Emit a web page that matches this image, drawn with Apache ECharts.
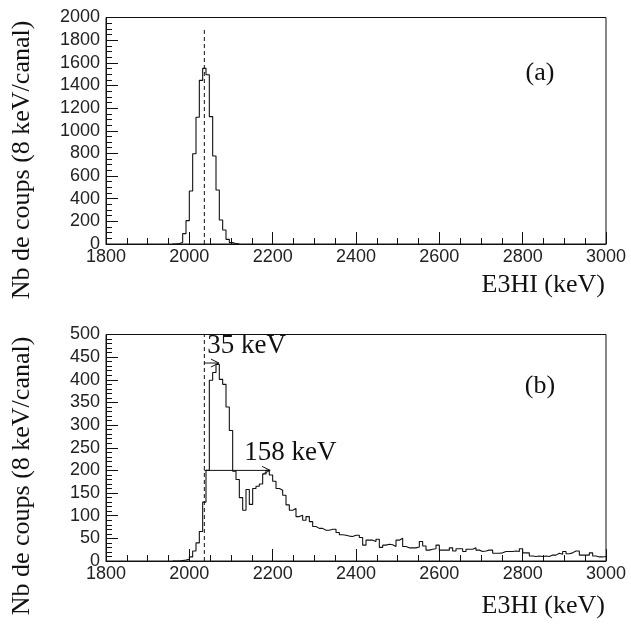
<!DOCTYPE html>
<html>
<head>
<meta charset="utf-8">
<script src="https://cdn.jsdelivr.net/npm/echarts@6/dist/echarts.min.js"></script>
<style>
  html, body { margin: 0; padding: 0; background: #fff; }
  #chart { width: 631px; height: 630px; }
</style>
</head>
<body>
<div id="chart"></div>
<script>
// 8 keV channels, counts listed from the first channel edge onward
const binWidth = 8;

// (a) first spectrum
const countsAStart = 1960;
const countsA = [0, 5, 14, 92, 206, 468, 797, 1119, 1445, 1551,
                 1495, 1125, 777, 477, 212, 124, 41, 12, 3, 0];

// (b) second spectrum
const countsBStart = 1960;
const countsB = [
  0, 0, 1, 2, 4, 9, 22, 40, 65, 130,                 // 1960-2032
  200, 399, 416, 434, 401, 390, 340, 288, 198, 180,  // 2040-2112
  140, 112, 158, 125, 160, 165, 170, 192, 200, 190,  // 2120-2192
  176, 160, 156, 145, 124, 112, 116, 98, 101, 90,    // 2200-2272
  98, 87, 76, 72, 72, 68, 68, 70, 70, 63,            // 2280-2352
  58, 57, 55, 54, 57, 57, 52, 35, 46, 46,            // 2360-2432
  43, 48, 30, 35, 37, 36, 32, 46, 50, 32,            // 2440-2512
  29, 29, 29, 31, 43, 33, 24, 26, 27, 35,            // 2520-2592
  24, 24, 24, 29, 22, 27, 27, 21, 26, 26,            // 2600-2672
  29, 24, 21, 22, 24, 24, 17, 17, 18, 21,            // 2680-2752
  21, 21, 22, 21, 27, 18, 18, 11, 10, 11,            // 2760-2832
  10, 11, 10, 13, 13, 17, 15, 21, 16, 18,            // 2840-2912
  22, 22, 13, 13, 13, 18, 11, 9, 9, 10               // 2920-2992
];

// reference energy (dashed line) and its height in each panel
const refEnergy = 2036;
const refTopA = 1900;
const refTopB = 500;

// widths marked with arrows in panel (b)
const arrowLabels = ['35 keV', '158 keV'];
const arrowWidths = [35, 158];
const arrowLevels = [437, 200];

// axis ranges
const xRange = [1800, 3000];
const yRangeA = [0, 2000];
const yRangeB = [0, 500];

// label placement for the arrow texts (pixels from the arrow start)
const arrowLabelDx = [3, 40];

function stepPoints(start, counts) {
  const pts = counts.map((c, i) => [start + i * binWidth, c]);
  pts.push([start + counts.length * binWidth, counts[counts.length - 1]]);
  return pts;
}

const ink = '#111';
const tickFont = { fontSize: 18, fontFamily: 'Liberation Sans', color: '#222',
                   formatter: v => String(v) };
const serif = 'Liberation Serif';

function xAxis(gridIndex) {
  return {
    type: 'value', gridIndex, min: xRange[0], max: xRange[1], interval: 200,
    axisLine: { show: true, lineStyle: { color: ink, width: 1 } },
    axisTick: { show: true, inside: true, length: 12, lineStyle: { color: ink, width: 1 } },
    minorTick: { show: true, splitNumber: 4, length: 6, lineStyle: { color: ink, width: 1 } },
    splitLine: { show: false },
    axisLabel: Object.assign({ margin: 4 }, tickFont)
  };
}
function yAxis(gridIndex, range, interval, minorSplit) {
  return {
    type: 'value', gridIndex, min: range[0], max: range[1], interval,
    axisLine: { show: true, lineStyle: { color: ink, width: 1 } },
    axisTick: { show: true, inside: true, length: 12, lineStyle: { color: ink, width: 1 } },
    minorTick: { show: true, splitNumber: minorSplit, length: 6, lineStyle: { color: ink, width: 1 } },
    splitLine: { show: false },
    axisLabel: Object.assign({ margin: 6 }, tickFont)
  };
}

const histStyle = { color: ink, width: 1.1 };
const dashStyle = { color: ink, width: 1, type: [4, 3] };

const chart = echarts.init(document.getElementById('chart'), null, { renderer: 'canvas' });

chart.setOption({
  animation: false,
  backgroundColor: '#fff',
  grid: [
    { left: 106, right: 25, top: 17.5, height: 226.5, show: true, borderColor: ink, borderWidth: 1 },
    { left: 106, right: 25, top: 334.5, height: 226.5, show: true, borderColor: ink, borderWidth: 1 }
  ],
  xAxis: [xAxis(0), xAxis(1)],
  yAxis: [yAxis(0, yRangeA, 200, 4), yAxis(1, yRangeB, 50, 5)],
  series: [
    {
      type: 'line', xAxisIndex: 0, yAxisIndex: 0, step: 'end', showSymbol: false,
      data: stepPoints(countsAStart, countsA), lineStyle: histStyle, silent: true
    },
    {
      type: 'line', xAxisIndex: 0, yAxisIndex: 0, showSymbol: false,
      data: [[refEnergy, 0], [refEnergy, refTopA]], lineStyle: dashStyle, silent: true
    },
    {
      type: 'line', xAxisIndex: 1, yAxisIndex: 1, step: 'end', showSymbol: false,
      data: stepPoints(countsBStart, countsB), lineStyle: histStyle, silent: true
    },
    {
      type: 'line', xAxisIndex: 1, yAxisIndex: 1, showSymbol: false,
      data: [[refEnergy, 0], [refEnergy, refTopB]], lineStyle: dashStyle, silent: true
    },
    {
      type: 'custom', xAxisIndex: 1, yAxisIndex: 1, clip: false, silent: true,
      data: arrowWidths.map((w, i) => [refEnergy, refEnergy + w, arrowLevels[i]]),
      renderItem(params, api) {
        const i = params.dataIndex;
        const p0 = api.coord([api.value(0), api.value(2)]);
        const p1 = api.coord([api.value(1), api.value(2)]);
        return {
          type: 'group',
          children: [
            { type: 'line', shape: { x1: p0[0], y1: p0[1], x2: p1[0], y2: p1[1] },
              style: { stroke: ink, lineWidth: 1 } },
            { type: 'polyline',
              shape: { points: [[p1[0] - 8, p1[1] - 4], [p1[0], p1[1]], [p1[0] - 8, p1[1] + 4]] },
              style: { stroke: ink, fill: null, lineWidth: 1 } },
            { type: 'text', x: p0[0] + arrowLabelDx[i], y: p0[1] - 17,
              style: { text: arrowLabels[i], fontSize: 27, fontFamily: serif, fill: ink,
                       align: 'left', verticalAlign: 'middle' } }
          ]
        };
      }
    }
  ],
  graphic: [
    { type: 'text', x: 22, y: 160, rotation: Math.PI / 2,
      style: { text: 'Nb de coups (8 keV/canal)', fontSize: 26, fontFamily: serif, fill: ink,
               align: 'center', verticalAlign: 'middle', textAlign: 'center', textVerticalAlign: 'middle' } },
    { type: 'text', x: 22, y: 476, rotation: Math.PI / 2,
      style: { text: 'Nb de coups (8 keV/canal)', fontSize: 26, fontFamily: serif, fill: ink,
               align: 'center', verticalAlign: 'middle', textAlign: 'center', textVerticalAlign: 'middle' } },
    { type: 'text', x: 605, y: 285,
      style: { text: 'E3HI (keV)', fontSize: 26, fontFamily: serif, fill: ink,
               align: 'right', verticalAlign: 'middle', textAlign: 'right', textVerticalAlign: 'middle' } },
    { type: 'text', x: 605, y: 606,
      style: { text: 'E3HI (keV)', fontSize: 26, fontFamily: serif, fill: ink,
               align: 'right', verticalAlign: 'middle', textAlign: 'right', textVerticalAlign: 'middle' } },
    { type: 'text', x: 540, y: 73,
      style: { text: '(a)', fontSize: 26, fontFamily: serif, fill: ink,
               align: 'center', verticalAlign: 'middle', textAlign: 'center', textVerticalAlign: 'middle' } },
    { type: 'text', x: 540, y: 386,
      style: { text: '(b)', fontSize: 26, fontFamily: serif, fill: ink,
               align: 'center', verticalAlign: 'middle', textAlign: 'center', textVerticalAlign: 'middle' } }
  ]
});
</script>
</body>
</html>
